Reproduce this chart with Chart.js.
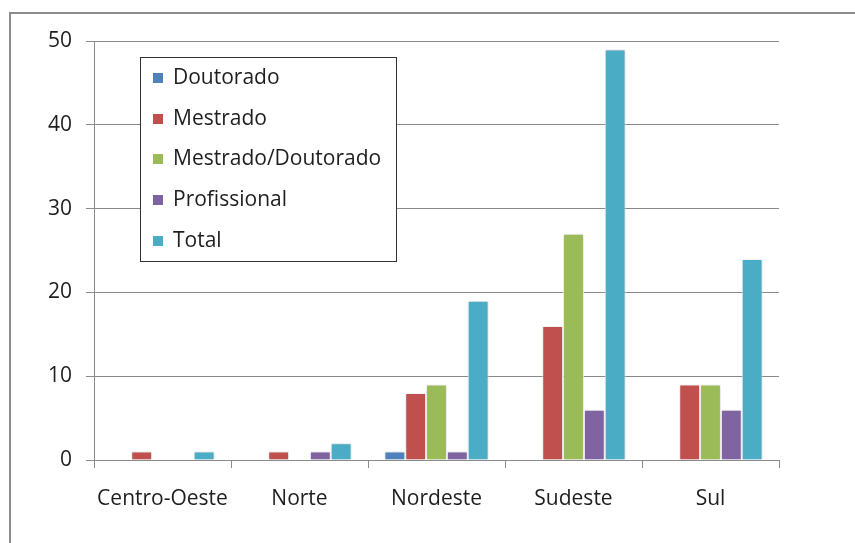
<!DOCTYPE html>
<html>
<head>
<meta charset="utf-8">
<script src="https://cdn.jsdelivr.net/npm/chart.js@4"></script>
<style>
html,body{margin:0;padding:0;background:#fff;}
#wrap{width:855px;height:543px;position:relative;}
</style>
</head>
<body>
<div id="wrap"><canvas id="c" width="855" height="543"></canvas></div>
<script>
const categories = ['Centro-Oeste', 'Norte', 'Nordeste', 'Sudeste', 'Sul'];
const seriesNames = ['Doutorado', 'Mestrado', 'Mestrado/Doutorado', 'Profissional', 'Total'];
const doutorado = [0, 0, 1, 0, 0];
const mestrado = [1, 1, 8, 16, 9];
const mestradoDoutorado = [0, 0, 9, 27, 9];
const profissional = [0, 1, 1, 6, 6];
const total = [1, 2, 19, 49, 24];
const yTicks = [0, 10, 20, 30, 40, 50];
const colors = ['#4F81BD', '#C0504D', '#9BBB59', '#8064A2', '#4BACC6'];

const FONT = {family: '"Open Sans", sans-serif', size: 21};
const TEXT = '#1e1e1e';
const GRID = '#8a8a8a';

const allValues = [doutorado, mestrado, mestradoDoutorado, profissional, total];

const frame = {
  id: 'frame',
  beforeDraw(chart) {
    const ctx = chart.ctx;
    ctx.save();
    ctx.fillStyle = '#fff';
    ctx.fillRect(0, 0, chart.width, chart.height);
    ctx.strokeStyle = '#8c8c8c';
    ctx.lineWidth = 2;
    ctx.strokeRect(10, 13, chart.width + 20, chart.height + 20);
    ctx.restore();
  }
};

const shadow = {
  id: 'shadow',
  beforeDatasetsDraw(chart) {
    const ctx = chart.ctx;
    ctx.save();
    ctx.shadowColor = 'rgba(0,0,0,0.22)';
    ctx.shadowBlur = 3;
    ctx.shadowOffsetX = 0;
    ctx.shadowOffsetY = 0;
  },
  afterDatasetsDraw(chart) {
    chart.ctx.restore();
  }
};

const boxLegend = {
  id: 'boxLegend',
  afterDraw(chart) {
    const ctx = chart.ctx;
    const x = 140.5, y = 57.5, w = 256, h = 204;
    ctx.save();
    ctx.fillStyle = '#fff';
    ctx.fillRect(x, y, w, h);
    ctx.strokeStyle = '#333';
    ctx.lineWidth = 1;
    ctx.strokeRect(x, y, w, h);
    ctx.font = FONT.size + 'px ' + FONT.family;
    ctx.textBaseline = 'middle';
    ctx.textAlign = 'left';
    chart.data.datasets.forEach((ds, i) => {
      const cy = 78 + i * 40.7;
      ctx.fillStyle = ds.backgroundColor;
      ctx.fillRect(153, Math.round(cy) - 5, 10, 10);
      ctx.fillStyle = TEXT;
      ctx.fillText(ds.label, 173, cy);
    });
    ctx.restore();
  }
};

new Chart(document.getElementById('c'), {
  type: 'bar',
  data: {
    labels: categories,
    datasets: seriesNames.map((name, i) => ({
      label: name,
      data: allValues[i],
      backgroundColor: colors[i],
      borderColor: '#ffffff',
      borderWidth: 1,
      categoryPercentage: 0.76,
      barPercentage: 1.0
    }))
  },
  options: {
    responsive: false,
    devicePixelRatio: 1,
    animation: false,
    layout: {padding: {top: 41, right: 76, left: 0, bottom: 0}},
    plugins: {legend: {display: false}, tooltip: {enabled: false}},
    scales: {
      x: {
        offset: true,
        grid: {display: true, offset: true, drawOnChartArea: false, drawTicks: true, tickLength: 8, color: GRID},
        border: {display: true, color: GRID, width: 1},
        ticks: {font: FONT, color: TEXT, padding: 18, maxRotation: 0},
        afterFit(scale) { scale.height = 83; }
      },
      y: {
        min: 0, max: 50,
        afterBuildTicks(scale) { scale.ticks = yTicks.map(v => ({value: v})); },
        grid: {color: GRID, drawTicks: true, tickLength: 8},
        border: {display: true, color: GRID, width: 1},
        ticks: {font: FONT, color: TEXT, padding: 14},
        afterFit(scale) { scale.width = 94; }
      }
    }
  },
  plugins: [frame, shadow, boxLegend]
});
</script>
</body>
</html>
